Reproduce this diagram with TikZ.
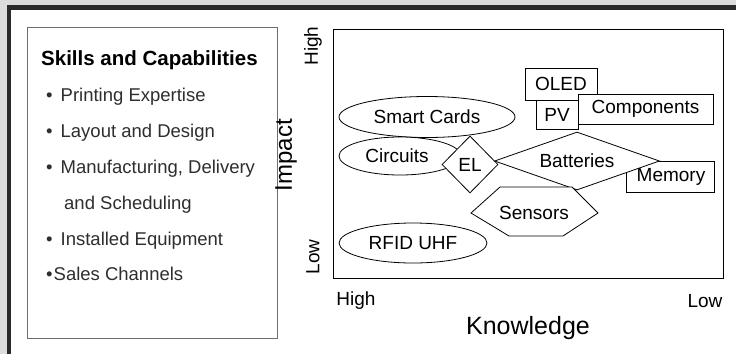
\documentclass[tikz,border=0pt]{standalone}
\usepackage{fontspec}
\setmainfont{Liberation Sans}
\usetikzlibrary{shapes.geometric}
\definecolor{bggray}{HTML}{DCDCDC}
\definecolor{framedark}{HTML}{2A2A2A}
\definecolor{boxgray}{HTML}{6E6E6E}
\definecolor{itemtext}{HTML}{2E2E2E}
\tikzset{
  shp/.style={draw=black, fill=white, line width=0.8pt, inner sep=0pt,
    font=\fontsize{19}{22}\selectfont},
  rectbox/.style={shp, rectangle},
  ellbox/.style={shp, ellipse},
  diabox/.style={shp, diamond},
  axlbl/.style={inner sep=0pt, font=\fontsize{19}{22}\selectfont},
  item/.style={inner sep=0pt, anchor=base west, text=itemtext,
    font=\fontsize{18.5}{22}\selectfont},
}
\begin{document}
\begin{tikzpicture}[x=1pt, y=-1pt]
\useasboundingbox (0,0) rectangle (736,354);
% background and frame
\fill[bggray] (0,0) rectangle (736,354);
\fill[white] (9,8) rectangle (736,354);
\fill[framedark] (7,5) rectangle (736,10);
\fill[framedark] (7,5) rectangle (10.5,354);
% left box
\draw[boxgray, line width=0.9pt] (27,27) rectangle (277,338);
\node[inner sep=0pt, anchor=base west, font=\bfseries\fontsize{20.5}{24}\selectfont] (title) at (41,65) {Skills and Capabilities};
\node[item] (i1) at (46,101) {\textbullet\hspace{8pt}Printing Expertise};
\node[item] (i2) at (46,137) {\textbullet\hspace{8pt}Layout and Design};
\node[item] (i3) at (46,173) {\textbullet\hspace{8pt}Manufacturing, Delivery};
\node[item] (i4) at (64,209) {and Scheduling};
\node[item] (i5) at (46,245) {\textbullet\hspace{8pt}Installed Equipment};
\node[item] (i6) at (46,280) {\textbullet\hspace{1pt}Sales Channels};
% plot frame
\draw[black, line width=0.9pt] (333,29) rectangle (723,278);
% axis labels
\node[axlbl, rotate=90] (yhigh) at (313,46) {High};
\node[axlbl, rotate=90] (ylow) at (313,257) {Low};
\node[inner sep=0pt, rotate=90, font=\fontsize{24}{28}\selectfont] (impact) at (286,155) {Impact};
\node[axlbl] (xhigh) at (356,301) {High};
\node[axlbl] (xlow) at (705,301) {Low};
\node[inner sep=0pt, font=\fontsize{25}{28}\selectfont] (knowledge) at (528,328) {Knowledge};
% shapes
\node[ellbox, minimum width=176pt, minimum height=41pt] (smart) at (427,117) {Smart Cards};
\node[ellbox, minimum width=122pt, minimum height=38pt] (circuits) at (400,156) {\hspace{-6pt}Circuits};
\node[diabox, minimum width=56pt, minimum height=57pt] (el) at (470,164.5) {\raisebox{-2pt}{EL}};
\node[rectbox, minimum width=88pt, minimum height=31pt] (memory) at (670,176.5) {\raisebox{-3pt}{\hspace{2pt}Memory}};
\node[diabox, shape aspect=2.8, minimum width=165pt, minimum height=58pt] (batteries) at (577,161) {\raisebox{1pt}{Batteries}};
\node[rectbox, minimum width=72pt, minimum height=32pt] (oled) at (561,84) {OLED};
\node[rectbox, minimum width=42pt, minimum height=29pt] (pv) at (557,114.5) {PV};
\node[rectbox, minimum width=135pt, minimum height=30pt] (components) at (645.5,109) {Components};
\draw[shp] (471,213) -- (500,187) -- (572,187) -- (598,213) -- (563,236) -- (509,236) -- cycle;
\node[inner sep=0pt, font=\fontsize{19}{22}\selectfont] (sensors) at (534,213) {Sensors};
\node[ellbox, minimum width=148pt, minimum height=40pt] (rfid) at (413,243) {RFID UHF};
\end{tikzpicture}
\end{document}
